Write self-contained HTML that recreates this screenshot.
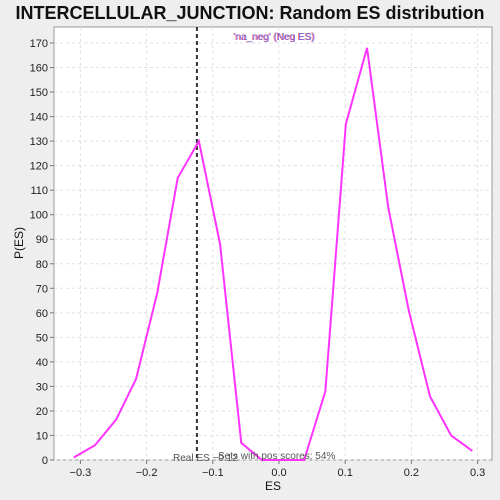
<!DOCTYPE html>
<html><head><meta charset="utf-8"><style>
body{margin:0;background:#eeeeee;font-family:"Liberation Sans",sans-serif;}
svg{display:block}
</style></head><body>
<svg id="chart" width="500" height="500">
<rect x="0" y="0" width="500" height="500" fill="#eeeeee"/>
<text x="250" y="19" text-anchor="middle" font-size="18" font-weight="bold" fill="#111">INTERCELLULAR_JUNCTION: Random ES distribution</text>
<rect x="54" y="27" width="438" height="433" fill="#ffffff" stroke="#999"/>
<g id="grid"></g>
<g id="axes"></g>
<line id="realline" y1="27" y2="460" stroke="#333" stroke-width="2" stroke-dasharray="4,3"/>
<polyline id="curve" fill="none" stroke="#ff33ff" stroke-width="2"/>
<text x="233" y="40" font-size="10" fill="#ff3333" opacity="0.7">'na_neg' (Neg ES)</text>
<text x="234" y="40" font-size="10" fill="#3333ff" opacity="0.7">'na_neg' (Neg ES)</text>
<text x="173" y="461" font-size="10" fill="#555">Real ES −0.12</text>
<text x="218" y="459" font-size="10" fill="#555">Sets with pos scores: 54%</text>
<text x="273" y="490" text-anchor="middle" font-size="12" fill="#111">ES</text>
<text x="23" y="243" text-anchor="middle" font-size="12" fill="#111" transform="rotate(-90 23 243)">P(ES)</text>
</svg>
<script>
const esValues=[-0.31,-0.278,-0.246,-0.216,-0.184,-0.153,-0.121,-0.089,-0.057,-0.026,0.006,0.038,0.07,0.101,0.133,0.165,0.196,0.228,0.26,0.292];
const densityValues=[1,6,16.5,33,68,115,130,88,7,0,0,0,28,137,168,103,61,26,10,3.7];
const xTicks=[-0.3,-0.2,-0.1,0.0,0.1,0.2,0.3];
const xTickLabels=["−0.3","−0.2","−0.1","0.0","0.1","0.2","0.3"];
const yTicks=[0,10,20,30,40,50,60,70,80,90,100,110,120,130,140,150,160,170];
const realES=-0.124;
const NS="http://www.w3.org/2000/svg";
function xs(v){return 279+v*662;}
function ys(v){return 460-v*(417/170);}
const grid=document.getElementById('grid'),axes=document.getElementById('axes');
function mk(tag,attrs,parent){const e=document.createElementNS(NS,tag);for(const k in attrs)e.setAttribute(k,attrs[k]);parent.appendChild(e);return e;}
xTicks.forEach((t,i)=>{
 const x=xs(t);
 const g=mk('line',{x1:x,x2:x,y1:27,y2:460,stroke:'#e0e0e0','stroke-dasharray':'3,3'},grid);
 
 
 const tk=mk('line',{x1:x,x2:x,y1:460,y2:464,stroke:'#777'},axes);
 
 
 const tx=mk('text',{x:x,y:476,'text-anchor':'middle','font-size':11,fill:'#222'},axes);
 tx.textContent=xTickLabels[i];
 
 
});
yTicks.forEach(t=>{
 const y=ys(t);
 const g=mk('line',{x1:54,x2:492,y1:y,y2:y,stroke:'#e0e0e0','stroke-dasharray':'3,3'},grid);
 
 
 const tk=mk('line',{x1:50,x2:54,y1:y,y2:y,stroke:'#777'},axes);
 
 
 const tx=mk('text',{x:48,y:y+4,'text-anchor':'end','font-size':11,fill:'#222'},axes);
 tx.textContent=t;
 
 
});
document.getElementById('curve').setAttribute('points',esValues.map((v,i)=>xs(v)+','+ys(densityValues[i])).join(' '));
const rl=document.getElementById('realline');rl.setAttribute('x1',xs(realES));rl.setAttribute('x2',xs(realES));
</script>
</body></html>
